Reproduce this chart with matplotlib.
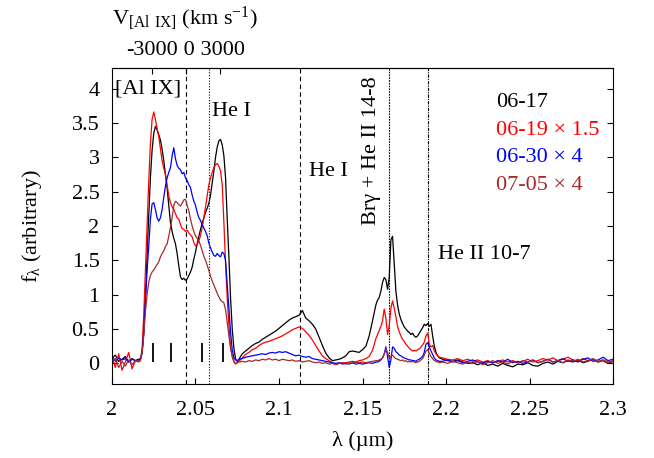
import numpy as np
import matplotlib
matplotlib.use("Agg")
import matplotlib.pyplot as plt

plt.rcParams['font.family'] = ['Liberation Serif', 'DejaVu Serif']
plt.rcParams['mathtext.default'] = 'regular'
plt.rcParams['font.size'] = 16

# wavelength sampling (micron), finer where the lines are
wave = np.concatenate([
    np.arange(2.000, 2.0165, 0.002),
    np.arange(2.017, 2.0765, 0.001),
    np.arange(2.078, 2.1585, 0.002),
    np.arange(2.159, 2.1965, 0.001),
    np.arange(2.198, 2.3005, 0.003),
])

# 06-17
flux_0617 = [
    0.08, 0.12, 0.03, 0.06, 0.10, 0.02, 0.07, 0.04, 0.06,
    0.07, 0.15, 0.45, 0.95, 1.55, 2.15, 2.70, 3.10, 3.35, 3.45,
    3.40, 3.33, 3.25, 3.12, 2.95, 2.75, 2.55, 2.30, 2.05, 1.92,
    1.82, 1.74, 1.60, 1.42, 1.26, 1.22, 1.24, 1.21, 1.23, 1.28,
    1.33, 1.40, 1.52, 1.62, 1.74, 1.85, 1.95, 2.04, 2.12, 2.20,
    2.26, 2.33, 2.45, 2.62, 2.80, 3.00, 3.15, 3.24, 3.26, 3.18,
    3.02, 2.70, 2.10, 1.55, 0.95, 0.50, 0.22, 0.06, 0.03, 0.06,
    0.14, 0.18, 0.22, 0.26, 0.29, 0.31, 0.35, 0.38, 0.41, 0.44,
    0.47, 0.51, 0.55, 0.59, 0.63, 0.66, 0.68, 0.70, 0.77, 0.66,
    0.62, 0.57, 0.50, 0.38, 0.26, 0.15, 0.08, 0.04, 0.05, 0.06,
    0.08, 0.11, 0.17, 0.18, 0.17, 0.16, 0.20, 0.25, 0.40, 0.62, 0.85,
    0.92, 0.96, 1.05, 1.18, 1.25, 1.22, 1.08, 1.25, 1.80, 1.85,
    1.45, 1.05, 0.85, 0.72, 0.64, 0.58, 0.53, 0.50, 0.47, 0.45,
    0.42, 0.44, 0.40, 0.38, 0.40, 0.44, 0.48, 0.52, 0.57, 0.55,
    0.58, 0.54, 0.57, 0.40, 0.25, 0.16, 0.11, 0.08,
    0.06, 0.04, 0.03, 0.05, 0.02, 0.00, 0.01, -0.02, 0.01, -0.03,
    -0.01, -0.04, 0.00, -0.03, -0.05, -0.01, -0.02, 0.01, -0.03, -0.04,
    0.00, 0.02, -0.01, 0.03, 0.01, 0.04, 0.02, 0.05, 0.01, 0.03,
    0.06, 0.02, 0.04, 0.00, 0.03,
]

# 06-19 x 1.5
flux_0619 = [
    0.10, -0.06, 0.14, -0.10, 0.02, 0.16, -0.08, 0.04, 0.02,
    0.04, 0.20, 0.70, 1.35, 2.00, 2.65, 3.20, 3.55, 3.66, 3.55,
    3.42, 3.30, 3.12, 2.95, 2.84, 2.75, 2.60, 2.44, 2.34, 2.28,
    2.24, 2.18, 2.12, 2.10, 2.02, 1.96, 1.95, 1.92, 1.94, 1.90,
    1.87, 1.84, 1.76, 1.71, 1.73, 1.78, 1.86, 1.98, 2.12, 2.28,
    2.45, 2.60, 2.70, 2.78, 2.85, 2.89, 2.91, 2.87, 2.80, 2.60,
    2.05, 1.45, 0.95, 0.55, 0.25, 0.10, 0.02, -0.01, 0.01, 0.03,
    0.08, 0.13, 0.16, 0.20, 0.22, 0.26, 0.29, 0.31, 0.32, 0.34,
    0.36, 0.38, 0.40, 0.43, 0.46, 0.49, 0.51, 0.53, 0.51, 0.46,
    0.41, 0.34, 0.26, 0.18, 0.11, 0.07, 0.04, 0.01, -0.01, 0.00,
    0.01, 0.01, 0.02, 0.03, 0.02, 0.04, 0.05, 0.07, 0.10, 0.19, 0.36,
    0.42, 0.48, 0.54, 0.62, 0.79, 0.66, 0.42, 0.55, 0.80, 0.91,
    0.80, 0.68, 0.54, 0.46, 0.40, 0.35, 0.32, 0.28, 0.25, 0.22,
    0.20, 0.18, 0.19, 0.18, 0.20, 0.21, 0.24, 0.27, 0.31, 0.40,
    0.44, 0.28, 0.24, 0.26, 0.18, 0.14, 0.11, 0.09,
    0.08, 0.06, 0.05, 0.07, 0.04, 0.06, 0.03, 0.05, 0.02, 0.04,
    0.01, 0.03, 0.05, 0.02, 0.04, 0.01, 0.03, 0.06, 0.02, 0.04,
    0.07, 0.05, 0.08, 0.04, 0.06, 0.09, 0.05, 0.03, 0.07, 0.04,
    0.06, 0.02, 0.05, 0.01, 0.03,
]

# 06-30 x 4
flux_0630 = [
    0.12, 0.03, 0.08, 0.05, 0.07, 0.02, 0.06, 0.04, 0.05,
    0.06, 0.15, 0.45, 0.90, 1.35, 1.70, 2.10, 2.32, 2.34, 2.24,
    2.12, 2.07, 2.12, 2.24, 2.42, 2.58, 2.70, 2.78, 2.85, 3.02,
    3.14, 2.98, 2.88, 2.84, 2.82, 2.76, 2.78, 2.70, 2.66, 2.60,
    2.56, 2.45, 2.36, 2.30, 2.20, 2.12, 2.08, 2.02, 1.97, 1.92,
    1.86, 1.75, 1.68, 1.62, 1.57, 1.56, 1.60, 1.57, 1.55, 1.62,
    1.60, 1.50, 1.15, 0.80, 0.45, 0.20, 0.08, 0.05, 0.04, 0.06,
    0.07, 0.09, 0.10, 0.11, 0.12, 0.13, 0.14, 0.13, 0.15, 0.16,
    0.15, 0.17, 0.16, 0.17, 0.15, 0.13, 0.11, 0.12, 0.10, 0.09,
    0.10, 0.07, 0.06, 0.05, 0.04, 0.03, 0.02, 0.01, 0.00, 0.01,
    -0.01, 0.00, -0.01, 0.01, -0.01, 0.00, -0.01, 0.00, 0.01, 0.00, 0.02,
    0.02, 0.03, 0.05, 0.08, 0.14, 0.24, 0.10, -0.06, 0.05, 0.24,
    0.22, 0.17, 0.15, 0.12, 0.11, 0.09, 0.08, 0.07, 0.06, 0.05,
    0.05, 0.04, 0.04, 0.03, 0.05, 0.06, 0.08, 0.10, 0.16, 0.28,
    0.30, 0.24, 0.18, 0.13, 0.08, 0.05, 0.04, 0.03,
    0.03, 0.05, 0.02, 0.04, 0.01, 0.03, 0.05, 0.02, 0.00, 0.03,
    0.01, 0.04, 0.02, 0.06, 0.01, 0.03, 0.00, 0.02, 0.05, 0.01,
    0.03, 0.06, 0.02, 0.04, 0.07, 0.03, 0.05, 0.02, 0.06, 0.08,
    0.03, 0.05, 0.09, 0.04, 0.06,
]

# 07-05 x 4
flux_0705 = [
    0.00, 0.07, -0.06, 0.03, -0.04, 0.05, -0.02, 0.04, 0.03,
    0.05, 0.15, 0.40, 0.75, 1.00, 1.18, 1.28, 1.33, 1.36, 1.40,
    1.44, 1.48, 1.55, 1.60, 1.64, 1.70, 1.74, 1.85, 1.98, 2.12,
    2.30, 2.36, 2.34, 2.31, 2.29, 2.33, 2.38, 2.39, 2.30, 2.22,
    2.10, 2.00, 1.92, 1.86, 1.82, 1.78, 1.72, 1.64, 1.56, 1.50,
    1.43, 1.35, 1.27, 1.20, 1.14, 1.08, 1.02, 0.97, 0.92, 0.90,
    0.88, 0.78, 0.60, 0.40, 0.22, 0.10, 0.03, 0.00, 0.01, 0.02,
    0.03, 0.02, 0.04, 0.03, 0.05, 0.04, 0.06, 0.05, 0.07, 0.05,
    0.06, 0.04, 0.06, 0.05, 0.04, 0.05, 0.03, 0.04, 0.02, 0.03,
    0.04, 0.02, 0.01, 0.02, 0.00, 0.01, -0.01, 0.00, -0.02, 0.00,
    0.01, -0.01, 0.01, 0.00, 0.02, 0.01, 0.02, 0.01, 0.02, 0.03, 0.04,
    0.04, 0.05, 0.06, 0.08, 0.13, 0.21, 0.16, 0.08, 0.10, 0.12,
    0.09, 0.07, 0.06, 0.05, 0.04, 0.05, 0.03, 0.04, 0.02, 0.03,
    0.02, 0.03, 0.02, 0.01, 0.02, 0.03, 0.05, 0.07, 0.12, 0.18,
    0.20, 0.15, 0.10, 0.07, 0.04, 0.03, 0.02, 0.01,
    0.02, 0.00, 0.03, 0.01, -0.01, 0.02, 0.00, 0.03, -0.02, 0.01,
    0.04, 0.00, 0.02, -0.01, 0.03, 0.01, 0.04, 0.02, 0.05, 0.01,
    0.03, 0.06, 0.02, 0.04, 0.01, 0.05, 0.03, 0.06, 0.02, 0.04,
    0.07, 0.03, 0.05, 0.02, 0.04,
]

labels = ['06-17', '06-19 × 1.5', '06-30 × 4', '07-05 × 4']
colors = ['black', '#ff0000', '#0000ff', '#a52a2a']
series = [flux_0617, flux_0619, flux_0630, flux_0705]

# line positions and styles
line_wave = [2.0444, 2.0583, 2.1126, 2.1659, 2.1890]
line_style = [(0, (4, 3)), (0, (1, 1.5)), (0, (4, 3)), (0, (1.5, 1)), (0, (3, 1, 1, 1))]
# short markers under the [Al IX] / He I blend
mark_wave = [2.0244, 2.0353, 2.0537, 2.0667]

line_labels = [
    ('[Al IX]', 2.0018, 4.00, 0),
    ('He I', 2.0597, 3.67, 0),
    ('He I', 2.1181, 2.80, 0),
    ('Brγ + He II 14-8', 2.1555, 3.09, 90),
    ('He II 10-7', 2.1954, 1.59, 0),
]

rest_alix = 2.0444
c_kms = 299792.458
vel_ticks = [-3000, 0, 3000]

fig = plt.figure(figsize=(6.54, 4.58), dpi=100)
ax = fig.add_axes([112/654, 1-384/458, 501/654, 316/458])

for v, ls in zip(line_wave, line_style):
    ax.axvline(v, color='black', lw=0.8, ls=ls, zorder=1)
ax.vlines(mark_wave, 0.02, 0.30, color='black', lw=1.3, zorder=1)

for f, c in zip(series, colors):
    f = np.asarray(f)
    assert len(f) == len(wave), (len(f), len(wave))
    ax.plot(wave, f, color=c, lw=0.9, zorder=2)

for txt, x, y, rot in line_labels:
    ax.text(x, y, txt, rotation=rot, ha='left' if rot == 0 else 'center',
            va='center', fontsize=16)

for i, (lab, c) in enumerate(zip(labels, colors)):
    ax.text(2.2299, 3.80 - 0.405*i, lab, color=c, ha='left', va='center', fontsize=16)

ax.set_xlim(2.0, 2.3)
ax.set_ylim(-0.3, 4.3)
ax.set_xticks([2.0, 2.05, 2.1, 2.15, 2.2, 2.25, 2.3])
ax.set_xticklabels(['2', '2.05', '2.1', '2.15', '2.2', '2.25', '2.3'])
ax.set_yticks(np.arange(0, 4.01, 0.5))
ax.set_yticklabels(['0', '0.5', '1', '1.5', '2', '2.5', '3', '3.5', '4'])
ax.tick_params(direction='in', length=4, width=0.8, right=True, top=False, labelsize=16)
ax.tick_params(axis='x', pad=12)
ax.tick_params(axis='y', pad=9)
for s in ax.spines.values():
    s.set_linewidth(0.8)

ax.set_xlabel('λ (µm)', fontsize=16, labelpad=8)
ax.set_ylabel('f$_λ$ (arbitrary)', fontsize=16, labelpad=20)

top = ax.secondary_xaxis('top', functions=(
    lambda lam: (lam/rest_alix - 1)*c_kms,
    lambda v: rest_alix*(1 + v/c_kms)))
top.set_xticks(vel_ticks)
top.set_xticklabels(['-3000', ' 0', ' 3000'])
top.tick_params(direction='in', length=4, width=0.8, labelsize=16, pad=6)
top.spines['top'].set_linewidth(0.8)
fig.text(185/654, 1-18/458, r'V$_{[Al\ IX]}$ (km s$^{-1}$)', ha='center', va='center', fontsize=16)

fig.savefig('out.png', dpi=100)
